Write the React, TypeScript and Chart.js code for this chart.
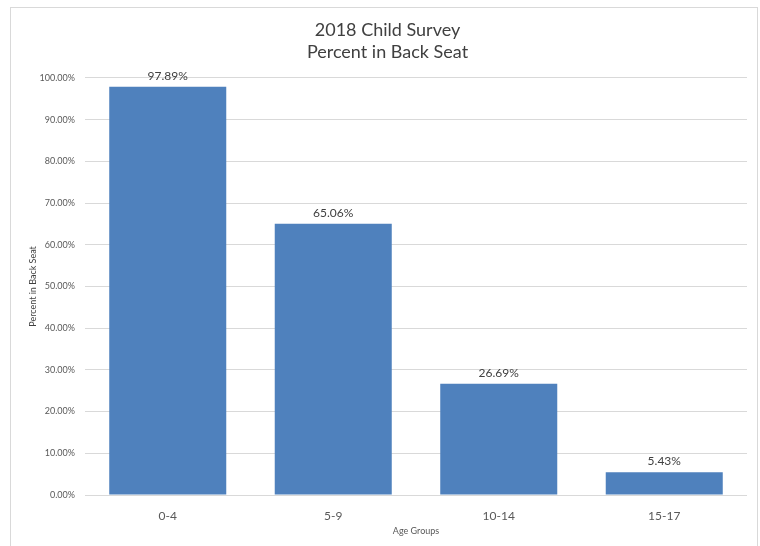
import React, { useEffect, useRef } from "react";
import { Chart, registerables } from "chart.js";

Chart.register(...registerables);

const categories = ["0-4", "5-9", "10-14", "15-17"];
const percentInBackSeat = [97.89, 65.06, 26.69, 5.43];
const titleLines = ["2018 Child Survey", "Percent in Back Seat"];
const xAxisTitle = "Age Groups";
const yAxisTitle = "Percent in Back Seat";

const FONT = "Lato, 'Open Sans', sans-serif";

const dataLabelPlugin = {
  id: "dataLabels",
  afterDatasetsDraw(chart: any) {
    const ctx = chart.ctx;
    const meta = chart.getDatasetMeta(0);
    ctx.save();
    ctx.font = `12px ${FONT}`;
    ctx.fillStyle = "#404040";
    ctx.textAlign = "center";
    ctx.textBaseline = "bottom";
    meta.data.forEach((bar: any, i: number) => {
      const v = chart.data.datasets[0].data[i] as number;
      ctx.fillText(v.toFixed(2) + "%", bar.x, bar.y - 5);
    });
    ctx.restore();
  },
};

export default function App() {
  const ref = useRef<HTMLCanvasElement>(null);
  useEffect(() => {
    if (!ref.current) return;
    const chart = new Chart(ref.current, {
      type: "bar",
      data: {
        labels: categories,
        datasets: [
          {
            data: percentInBackSeat,
            backgroundColor: "#4F81BD",
            borderWidth: 0,
            categoryPercentage: 1,
            barPercentage: 0.707,
          },
        ],
      },
      options: {
        responsive: false,
        animation: false,
        layout: { padding: { left: 28, right: 13, top: 0, bottom: 10 } },
        plugins: {
          legend: { display: false },
          tooltip: { enabled: false },
          title: {
            display: true,
            text: titleLines,
            color: "#404040",
            font: { family: FONT, size: 18, weight: "normal", lineHeight: 1.22 },
            padding: { top: 19, bottom: 15 },
          },
        },
        scales: {
          x: {
            grid: { display: false, drawTicks: false },
            border: { display: false },
            ticks: { color: "#595959", font: { family: FONT, size: 12 }, padding: 14 },
            title: {
              display: true,
              text: xAxisTitle,
              color: "#595959",
              font: { family: FONT, size: 9 },
              padding: 0,
            },
            afterFit(scale: any) {
              scale.height = 41;
            },
          },
          y: {
            min: 0,
            max: 100,
            ticks: {
              stepSize: 10,
              color: "#595959",
              font: { family: FONT, size: 9 },
              padding: 10,
              callback: (v: any) => Number(v).toFixed(2) + "%",
            },
            grid: { color: "#d9d9d9", drawTicks: false },
            border: { display: false },
            title: {
              display: true,
              text: yAxisTitle,
              color: "#404040",
              font: { family: FONT, size: 9 },
              padding: 0,
            },
            afterFit(scale: any) {
              scale.width = 57;
            },
          },
        },
      },
      plugins: [dataLabelPlugin],
    });
    return () => chart.destroy();
  }, []);
  return (
    <div style={{ position: "fixed", left: 0, top: 0, width: 760, height: 546, background: "#fff" }}>
      <div
        style={{
          position: "absolute",
          left: 10,
          top: 7,
          width: 748,
          height: 600,
          border: "1px solid #d9d9d9",
          boxSizing: "border-box",
        }}
      />
      <canvas ref={ref} width={760} height={546} style={{ position: "absolute", left: 0, top: 0 }} />
    </div>
  );
}
